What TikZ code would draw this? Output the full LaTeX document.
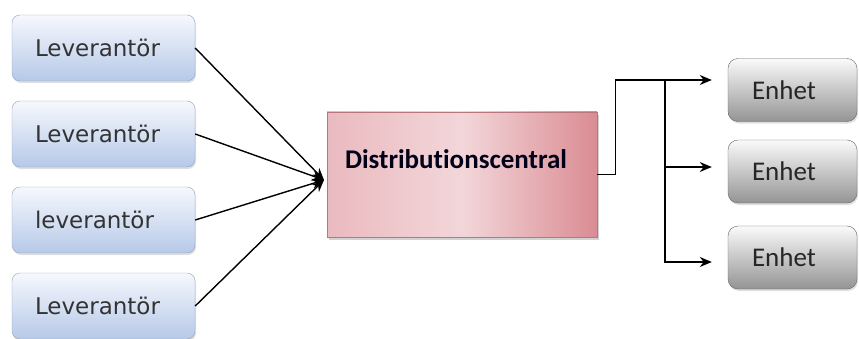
\documentclass[tikz,border=0pt]{standalone}
\usepackage{fontspec}
\setmainfont{Carlito}[Ligatures=NoCommon]
\newfontfamily\levfont{DejaVu Sans}
\usetikzlibrary{arrows.meta, shadows}
\definecolor{levtop}{RGB}{246,248,253}
\definecolor{levbot}{RGB}{182,201,232}
\definecolor{levline}{RGB}{150,164,190}
\definecolor{dcleft}{RGB}{234,186,191}
\definecolor{dcmid}{RGB}{242,214,217}
\definecolor{dcright}{RGB}{218,140,147}
\definecolor{entop}{RGB}{250,250,250}
\definecolor{enbot}{RGB}{148,148,148}
\tikzstyle{levbox} = [rectangle, rounded corners=8pt, minimum width=183pt, minimum height=66pt, text width=137pt, inner xsep=0pt, align=left, draw=levline, top color=levtop, bottom color=levbot, drop shadow={opacity=0.25, shadow xshift=1pt, shadow yshift=-2pt}, font=\levfont\fontsize{23}{28}\selectfont, text=black!80]
\tikzstyle{central} = [rectangle, minimum width=270pt, minimum height=125pt, text width=234pt, inner xsep=0pt, align=left, draw=dcright!85!black, left color=dcleft, right color=dcright, middle color=dcmid, drop shadow={opacity=0.35, shadow xshift=2pt, shadow yshift=-3pt}, font=\bfseries\fontsize{27}{32}\selectfont, text=black!90!blue]
\tikzstyle{unitbox} = [rectangle, rounded corners=10pt, minimum width=129pt, minimum height=63pt, text width=81pt, inner xsep=0pt, align=left, draw=black!60, top color=entop, bottom color=enbot, drop shadow={opacity=0.25, shadow xshift=1pt, shadow yshift=-2pt}, font=\fontsize{27}{32}\selectfont, text=black!85]
\tikzstyle{arrow} = [line width=1.4pt, -{Stealth[length=12pt, width=10pt]}]

\begin{document}
\begin{tikzpicture}[x=1pt, y=1pt, node distance=86pt]
    \useasboundingbox[fill=white] (0,0) rectangle (859,338);

    \node (lev1) [levbox] at (103.5,290) {Leverantör};
    \node (lev2) [levbox, below of=lev1] {Leverantör};
    \node (lev3) [levbox, below of=lev2] {leverantör};
    \node (lev4) [levbox, below of=lev3] {Leverantör};

    \node (dc) [central] at (462,163.5) {\raisebox{6.5pt}[0pt][0pt]{Distributionscentral}};

    \node (unit1) [unitbox] at (792.5,248) {Enhet};
    \node (unit2) [unitbox] at (792.5,166.5) {Enhet};
    \node (unit3) [unitbox] at (792.5,80.5) {Enhet};

    \coordinate (hub) at (324,158);
    \coordinate (split) at (665,258);

    \foreach \i in {1,...,4}
        \draw[arrow] (lev\i.east) -- (hub);

    \draw[arrow] (dc.east) -- ++(18,0) |- ([xshift=-16pt, yshift=10pt]unit1.west);
    \draw[arrow] (split) |- ([xshift=-16pt, yshift=4.5pt]unit2.west);
    \draw[arrow] (split) |- ([xshift=-16pt, yshift=-4.5pt]unit3.west);

\end{tikzpicture}
\end{document}
